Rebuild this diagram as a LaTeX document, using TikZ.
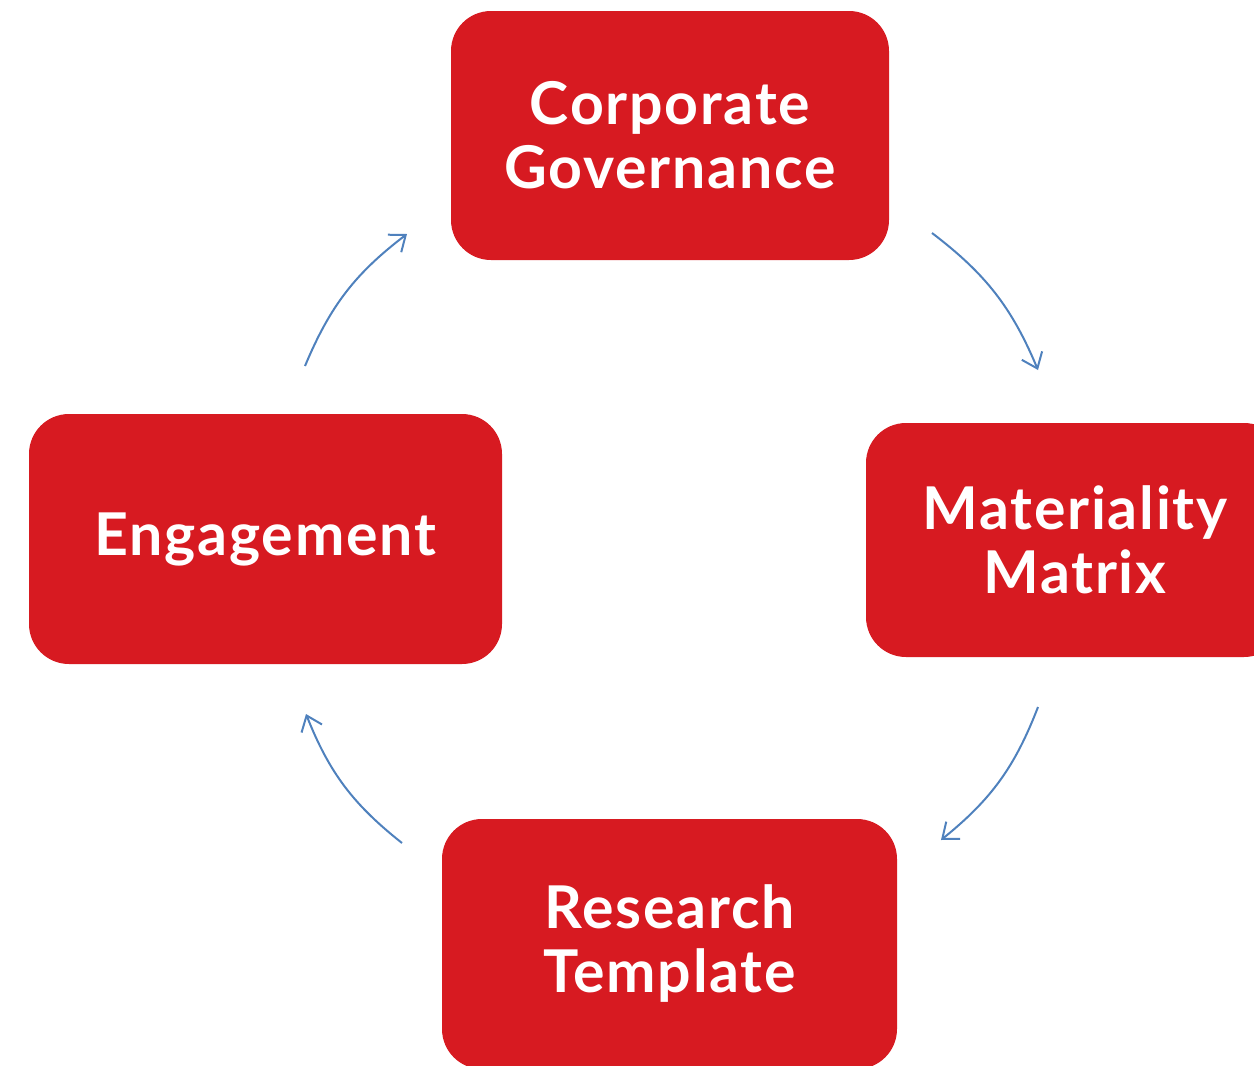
\documentclass[tikz,border=0pt]{standalone}
\usepackage{fontspec}
\setmainfont{Lato}[LetterSpace=3]
\usepackage{tikz}
\usetikzlibrary{arrows.meta, positioning}
\definecolor{box-red}{RGB}{215,26,33}
\definecolor{link-blue}{RGB}{79,129,189}

\tikzset{
	stage/.style={rectangle, rounded corners=20pt, fill=box-red, text=white, align=center,
		font=\fontsize{29.5}{32}\selectfont\bfseries, inner sep=0pt},
	link/.style={-{Straight Barb[length=7pt, width=11pt]}, link-blue, line width=1pt, bend left=15}
}

\begin{document}
\begin{tikzpicture}[x=0.5pt, y=-0.5pt]
			\useasboundingbox (0,0) rectangle (1254,1066);
			\clip (0,0) rectangle (1254,1066);
			\node[stage, minimum width=219pt, minimum height=124.5pt] (gov) at (670,135.5) {Corporate\\Governance};
			\node[stage, minimum width=209pt, minimum height=117pt] (mat) at (1075,540) {Materiality\\Matrix};
			\node[stage, minimum width=227.5pt, minimum height=125pt] (res) at (669.5,944) {Research\\Template};
			\node[stage, minimum width=236.5pt, minimum height=125pt] (eng) at (265.5,539) {Engagement};
			% loose ends of the cycle arrows
			\coordinate (gov-out) at (932,233);
			\coordinate (mat-in) at (1038,370);
			\coordinate (mat-out) at (1038,707);
			\coordinate (res-in) at (941,840);
			\coordinate (res-out) at (402,843);
			\coordinate (eng-in) at (306,714);
			\coordinate (eng-out) at (305,366);
			\coordinate (gov-in) at (407,234);
			\draw[link] (gov-out) to (mat-in);
			\draw[link] (mat-out) to (res-in);
			\draw[link] (res-out) to (eng-in);
			\draw[link] (eng-out) to (gov-in);
		\end{tikzpicture}
\end{document}
